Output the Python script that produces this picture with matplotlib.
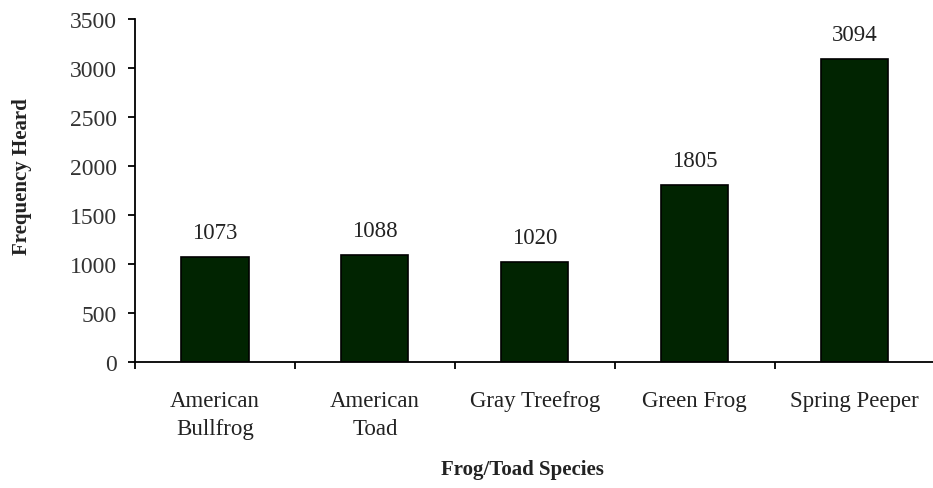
import matplotlib
matplotlib.use("Agg")
import matplotlib.pyplot as plt
import numpy as np

# data
soorten = ["American\nBullfrog", "American\nToad", "Gray Treefrog", "Green Frog", "Spring Peeper"]
aantallen = [1073, 1088, 1020, 1805, 3094]
yticks = [0, 500, 1000, 1500, 2000, 2500, 3000, 3500]

plt.rcParams['font.family'] = ['Liberation Serif', 'DejaVu Serif']

fig = plt.figure(figsize=(9.33, 4.89), dpi=100, facecolor='white')
ax = fig.add_axes([0.1447, 0.2577, 0.857, 0.7013])

x = np.arange(len(soorten))
ax.bar(x, aantallen, width=0.42, color='#012401', edgecolor='black', linewidth=1.2)

#waarde boven elke staaf
for xi, val in zip(x, aantallen):
    ax.annotate(str(val), (xi, val), xytext=(0, 10), textcoords='offset points',
                ha='center', va='bottom', fontsize=16.5, color='#222222')

ax.set_xlim(-0.5, len(soorten) - 0.5)
ax.set_ylim(0, 3500)
ax.set_yticks(yticks)
ax.set_yticklabels([str(t) for t in yticks], fontsize=17, color='#333333')

# category ticks sit between the bars
ax.set_xticks(np.arange(len(soorten) + 1) - 0.5)
ax.set_xticklabels([])
ax.set_xticks(x, minor=True)
ax.set_xticklabels(soorten, minor=True, fontsize=16.5, color='#222222', linespacing=1.45)
ax.tick_params(axis='x', which='minor', length=0, pad=20)
ax.tick_params(axis='x', which='major', length=5, width=1.3, direction='out')
ax.tick_params(axis='y', length=5, width=1.3, pad=8)

ax.spines['top'].set_visible(False)
ax.spines['right'].set_visible(False)
ax.spines['left'].set_linewidth(1.3)
ax.spines['bottom'].set_linewidth(1.3)

fig.text(0.56, 0.039, 'Frog/Toad Species', ha='center', va='center',
         fontsize=15, fontweight='bold', color='#222222')
fig.text(0.024, 0.638, 'Frequency Heard', ha='center', va='center', rotation=90,
         fontsize=15, fontweight='bold', color='#222222')

plt.savefig('out.png', dpi=100)
plt.close()
